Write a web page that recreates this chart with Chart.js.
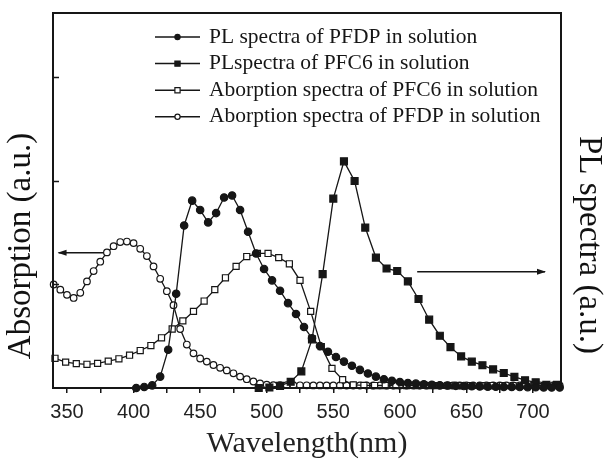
<!DOCTYPE html>
<html>
<head>
<meta charset="utf-8">
<script src="https://cdn.jsdelivr.net/npm/chart.js@4.4.1/dist/chart.umd.min.js"></script>
<style>
  html, body { margin:0; padding:0; background:#fff; }
</style>
</head>
<body>
<canvas id="spectra" width="605" height="459"></canvas>
<script>
// 데이터 ---------------------------
// 흡수 스펙트럼 PFDP (open circle)
const absPFDPnm = [340,345,350,355,360,365,370,375,380,385,390,395,400,405,410,415,420,425,430,435,440,445,450,455,460,465,470,475,480,485,490,495,500,
  505,510,515,520,525,530,535,540,545,550,555,560,565,570,575,580,585,590,595,600,605,610,615,620,625,630,635,640,645,650,655,660,665,670,675,680,685,690,695,700,705,710,715,720];
const absPFDP = [1.00,0.95,0.90,0.87,0.92,1.03,1.13,1.22,1.31,1.37,1.41,1.415,1.40,1.345,1.275,1.175,1.055,0.935,0.80,0.57,0.42,0.335,0.285,0.255,0.222,0.195,0.17,0.142,0.11,0.085,0.063,0.045,0.032,
  0.028,0.028,0.027,0.027,0.026,0.026,0.025,0.025,0.025,0.025,0.025,0.024,0.024,0.024,0.024,0.024,0.024,0.024,0.024,0.024,0.024,0.024,0.024,0.024,0.024,0.024,0.024,0.024,0.024,0.024,0.024,0.024,0.024,0.025,0.025,0.025,0.025,0.025,0.026,0.026,0.026,0.026,0.026,0.026];

// 흡수 스펙트럼 PFC6 (open square)
const absPFC6nm = [341,349,357,365,373,381,389,397,405,413,421,429,437,445,453,461,469,477,485,493,501,509,517,525,533,541,549,557,565,
  573,581,589,597,605,613,621,629,637,645,653,661,669,677,685,693,701,709,717];
const absPFC6 = [0.287,0.25,0.235,0.229,0.238,0.26,0.282,0.317,0.362,0.41,0.485,0.57,0.648,0.74,0.84,0.95,1.065,1.175,1.27,1.30,1.30,1.26,1.20,1.04,0.74,0.40,0.19,0.08,0.03,
  0.025,0.024,0.024,0.023,0.023,0.023,0.023,0.023,0.023,0.023,0.023,0.023,0.024,0.024,0.024,0.025,0.025,0.025,0.025];

// PL 스펙트럼 PFDP (filled circle)
const plPFDPnm = [402,408,414,420,426,432,438,444,450,456,462,468,474,480,486,492,498,504,510,516,522,528,534,540,546,552,558,564,570,576,582,588,594,600,
  606,612,618,624,630,636,642,648,654,660,666,672,678,684,690,696,702,708,714,720];
const plPFDP = [0.0,0.01,0.025,0.11,0.37,0.91,1.57,1.81,1.72,1.60,1.69,1.84,1.86,1.72,1.51,1.30,1.15,1.04,0.94,0.82,0.715,0.59,0.48,0.405,0.35,0.30,0.255,0.215,0.175,0.14,0.11,0.085,0.07,0.058,
  0.048,0.042,0.036,0.031,0.027,0.024,0.021,0.019,0.017,0.015,0.013,0.012,0.011,0.01,0.009,0.008,0.007,0.006,0.005,0.005];

// PL 스펙트럼 PFC6 (filled square)
const plPFC6nm = [494,502,510,518,526,534,542,550,558,566,574,582,590,598,606,614,622,630,638,646,654,662,670,678,686,694,702,710,718];
const plPFC6 = [0.0,0.005,0.02,0.06,0.16,0.47,1.10,1.83,2.19,2.00,1.55,1.26,1.155,1.13,1.03,0.86,0.66,0.505,0.395,0.305,0.255,0.22,0.18,0.145,0.108,0.075,0.055,0.03,0.03];

// 축 눈금
const xTickValues = [350,375,400,425,450,475,500,525,550,575,600,625,650,675,700];
const yTickValues = [1,2,3];

const labels = [
  'PL spectra of PFDP in solution',
  'PLspectra of PFC6 in solution',
  'Aborption spectra of PFC6 in solution',
  'Aborption spectra of PFDP in solution'
];
const leftTitle = 'Absorption (a.u.)';
const rightTitle = 'PL spectra (a.u.)';

function toPoints(xs, ys){
  return xs.map((x, i) => ({x: x, y: ys[i]}));
}

const ink = '#161616';
const serif = "'Liberation Serif', 'Times New Roman', serif";

function series(label, xs, ys, style, filled, radius, axis){
  return {
    label: label,
    data: toPoints(xs, ys),
    yAxisID: axis,
    borderColor: ink,
    borderWidth: 1.3,
    pointStyle: style,
    pointRadius: radius,
    pointBorderWidth: 1.2,
    pointBorderColor: ink,
    pointBackgroundColor: filled ? ink : '#fff',
    tension: 0,
    clip: false
  };
}

// 범례 (플롯 안쪽)
const legendInside = {
  id: 'legendInside',
  afterDraw(chart){
    const ctx = chart.ctx;
    ctx.save();
    chart.data.datasets.forEach((ds, i) => {
      const y = 37 + i * 26.6;
      ctx.strokeStyle = ink;
      ctx.lineWidth = 1.5;
      ctx.beginPath();
      ctx.moveTo(155, y);
      ctx.lineTo(200, y);
      ctx.stroke();
      const r = 2.6;
      ctx.fillStyle = ds.pointBackgroundColor;
      ctx.lineWidth = 1.2;
      ctx.beginPath();
      if (ds.pointStyle === 'rect') ctx.rect(177.5 - r, y - r, 2 * r, 2 * r);
      else ctx.arc(177.5, y, r, 0, Math.PI * 2);
      ctx.fill();
      ctx.stroke();
      ctx.fillStyle = ink;
      ctx.font = '21.5px ' + serif;
      ctx.textBaseline = 'middle';
      ctx.textAlign = 'left';
      ctx.fillText(ds.label, 209, y);
    });
    ctx.restore();
  }
};

// 세로축 제목 (양쪽)
const sideTitles = {
  id: 'sideTitles',
  afterDraw(chart){
    const ctx = chart.ctx;
    ctx.save();
    ctx.fillStyle = '#111';
    ctx.font = '33px ' + serif;
    ctx.textAlign = 'center';
    ctx.textBaseline = 'middle';
    ctx.save();
    ctx.translate(21, 246);
    ctx.rotate(-Math.PI / 2);
    ctx.fillText(leftTitle, 0, 0);
    ctx.restore();
    ctx.translate(589, 245);
    ctx.rotate(Math.PI / 2);
    ctx.fillText(rightTitle, 0, 0);
    ctx.restore();
  }
};

// 테두리 + 왼쪽 안쪽 눈금
const frame = {
  id: 'frame',
  afterDatasetsDraw(chart){
    const {ctx, chartArea: a} = chart;
    const yScale = chart.scales.y;
    ctx.save();
    ctx.strokeStyle = ink;
    ctx.lineWidth = 2;
    ctx.strokeRect(a.left, a.top, a.right - a.left, a.bottom - a.top);
    ctx.lineWidth = 1.5;
    yTickValues.forEach(v => {
      const py = Math.round(yScale.getPixelForValue(v)) + 0.5;
      ctx.beginPath();
      ctx.moveTo(a.left, py);
      ctx.lineTo(a.left + 6, py);
      ctx.stroke();
    });
    ctx.restore();
  }
};

// 축 방향 화살표
const arrowDefs = [
  {axis: 'y', from: 377.5, to: 343.7, at: 1.307},
  {axis: 'y2', from: 613, to: 709, at: 1.124}
];
const arrows = {
  id: 'arrows',
  afterDatasetsDraw(chart){
    const ctx = chart.ctx;
    const xs = chart.scales.x;
    ctx.save();
    ctx.strokeStyle = ink;
    ctx.fillStyle = ink;
    ctx.lineWidth = 1.5;
    arrowDefs.forEach(a => {
      const y = chart.scales[a.axis].getPixelForValue(a.at);
      const x1 = xs.getPixelForValue(a.from);
      const x2 = xs.getPixelForValue(a.to);
      const dir = x2 > x1 ? 1 : -1;
      ctx.beginPath();
      ctx.moveTo(x1, y);
      ctx.lineTo(x2, y);
      ctx.stroke();
      ctx.beginPath();
      ctx.moveTo(x2 + dir * 1, y);
      ctx.lineTo(x2 - dir * 8, y - 3);
      ctx.lineTo(x2 - dir * 8, y + 3);
      ctx.closePath();
      ctx.fill();
    });
    ctx.restore();
  }
};

let content = document.getElementById('spectra');

new Chart(content, {
  type: 'line',
  data: {
    datasets: [
      series(labels[0], plPFDPnm, plPFDP, 'circle', true, 3.7, 'y2'),
      series(labels[1], plPFC6nm, plPFC6, 'rect', true, 4.9, 'y2'),
      series(labels[2], absPFC6nm, absPFC6, 'rect', false, 4.3, 'y'),
      series(labels[3], absPFDPnm, absPFDP, 'circle', false, 3.3, 'y')
    ]
  },
  options: {
    responsive: false,
    animation: false,
    layout: { padding: { top: 13, left: 0, right: 0, bottom: 0 } },
    scales: {
      x: {
        type: 'linear',
        min: 339.5,
        max: 721,
        afterBuildTicks: axis => { axis.ticks = xTickValues.map(v => ({value: v})); },
        afterFit: axis => { axis.height = 71; },
        grid: { drawOnChartArea: false, drawTicks: true, tickLength: 5, color: ink, lineWidth: 1.5 },
        border: { display: false },
        ticks: {
          autoSkip: false,
          maxRotation: 0,
          padding: 7,
          color: '#222',
          font: { family: "'Liberation Sans', sans-serif", size: 20 },
          callback: v => (v % 50 === 0 ? String(v) : '')
        },
        title: {
          display: true,
          text: 'Wavelength(nm)',
          color: '#222',
          font: { family: serif, size: 30, lineHeight: 1 },
          padding: { top: 0, bottom: 0 }
        }
      },
      y: {
        position: 'left',
        min: 0,
        max: 3.623,
        afterFit: axis => { axis.width = 53; },
        grid: { display: false },
        border: { display: false },
        ticks: { display: false }
      },
      y2: {
        position: 'right',
        min: 0,
        max: 3.623,
        afterFit: axis => { axis.width = 44; },
        grid: { display: false },
        border: { display: false },
        ticks: { display: false }
      }
    },
    plugins: {
      legend: { display: false },
      tooltip: { enabled: false }
    }
  },
  plugins: [frame, arrows, legendInside, sideTitles]
});
</script>
</body>
</html>
